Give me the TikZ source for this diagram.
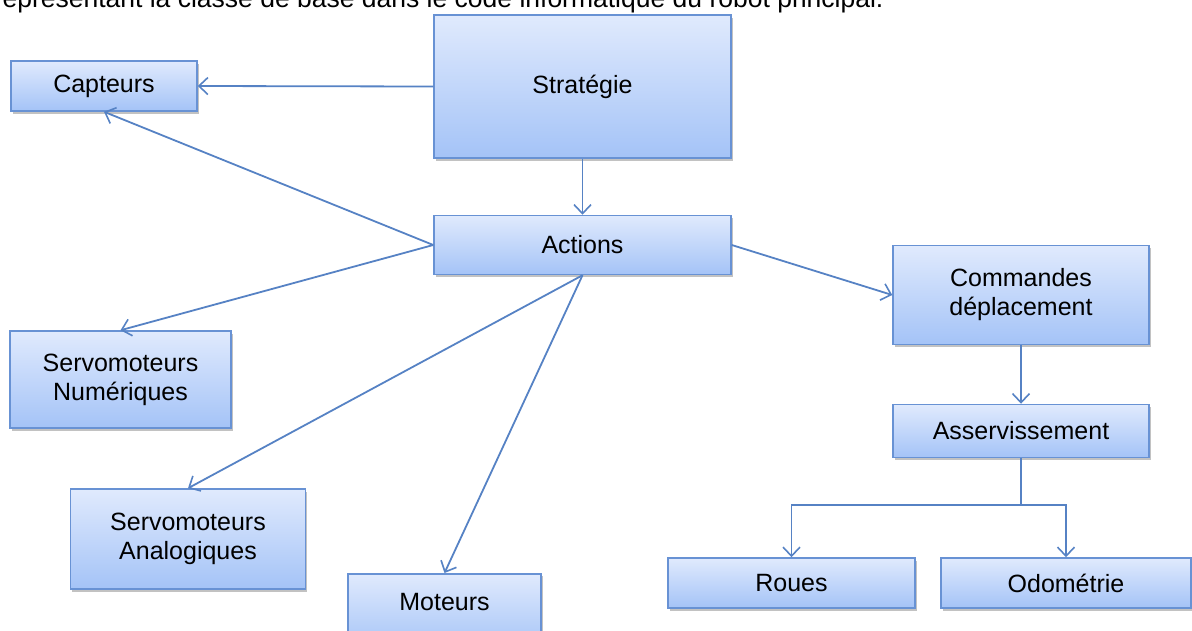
\documentclass[tikz,border=0pt]{standalone}
\usepackage{fontspec}
\setmainfont{Liberation Sans}
\usetikzlibrary{arrows.meta,shadows}
\definecolor{boxtop}{RGB}{224,234,253}
\definecolor{boxbot}{RGB}{164,195,247}
\definecolor{boxline}{RGB}{104,146,212}
\definecolor{wire}{RGB}{86,130,196}
\begin{document}
\begin{tikzpicture}[x=1pt,y=-1pt,
  bloc/.style={draw=boxline,line width=1.5pt,top color=boxtop,bottom color=boxbot,
    drop shadow={shadow xshift=1.5pt,shadow yshift=-2.5pt,fill=black!40,opacity=0.6},
    align=center,font=\fontsize{25}{29}\selectfont,inner sep=0pt},
  fleche/.style={draw=wire,line width=1.8pt,-{Straight Barb[length=9pt,width=17pt,line width=1.6pt]}}]
\useasboundingbox (0,0) rectangle (1192,630);
\clip (0,0) rectangle (1192,630);

\node[anchor=base west,font=\fontsize{26.5}{30}\selectfont] (legende) at (-1,7)
  {eprésentant la classe de base dans le code informatique du robot principal.};

\node[bloc,minimum width=297pt,minimum height=143pt] (strat) at (582.5,86.5) {Stratégie};
\node[bloc,minimum width=186pt,minimum height=50pt] (capt) at (104,86) {Capteurs};
\node[bloc,minimum width=297pt,minimum height=59pt] (actions) at (582.5,245) {Actions};
\node[bloc,minimum width=221pt,minimum height=97pt] (snum) at (120.5,379.5) {Servomoteurs\\Numériques};
\node[bloc,minimum width=235pt,minimum height=100pt] (sana) at (188,539) {Servomoteurs\\Analogiques};
\node[bloc,minimum width=193pt,text height=37pt,text depth=40pt,anchor=north] (mot) at (444.5,573) {Moteurs};
\node[bloc,minimum width=256pt,minimum height=99pt] (cmd) at (1021,295) {Commandes\\déplacement};
\node[bloc,minimum width=256pt,minimum height=53pt] (asserv) at (1021,431) {Asservissement};
\node[bloc,minimum width=247pt,minimum height=50pt] (roues) at (791.5,583) {Roues};
\node[bloc,minimum width=250pt,minimum height=50pt] (odo) at (1066,583) {Odométrie};
\coordinate (split) at (1021,505);

\draw[fleche] (strat.west) -- (capt.east);
\draw[fleche] (strat.south) -- (actions.north);
\draw[fleche] (actions.west) -- (capt.south);
\draw[fleche] (actions.west) -- (snum.north);
\draw[fleche] (actions.south) -- (sana.north);
\draw[fleche] (actions.south) -- (mot.north);
\draw[fleche] (actions.east) -- (cmd.west);
\draw[fleche] (cmd.south) -- (asserv.north);
\draw[fleche] (asserv.south) -- (split) -| (roues.north);
\draw[fleche] (split) -| (odo.north);
\end{tikzpicture}
\end{document}
